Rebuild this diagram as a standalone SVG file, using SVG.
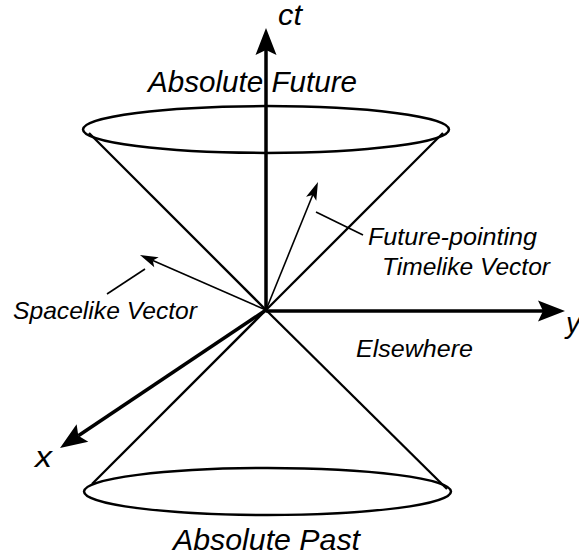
<svg xmlns="http://www.w3.org/2000/svg" width="579" height="556" viewBox="0 0 579 556">
<style>
.lbl{font-family:"Liberation Sans",Arial,Helvetica,sans-serif;font-style:italic;fill:#000}
.big{font-size:29px}
.sm{font-size:24px}
.cone{fill:none;stroke:#000;stroke-width:2.3}
.ell{fill:none;stroke:#000;stroke-width:2.5}
.axis{fill:none;stroke:#000;stroke-width:3.5}
.vec{fill:none;stroke:#000;stroke-width:1.6}
.lead{fill:none;stroke:#000;stroke-width:1.6}
</style>
<defs>
<marker id="ah" markerUnits="userSpaceOnUse" markerWidth="30" markerHeight="24" refX="5" refY="10.5" orient="auto" overflow="visible">
<path d="M0,0 L27,10.5 L0,21 L5,10.5 Z" fill="#000"/>
</marker>
<marker id="as" markerUnits="userSpaceOnUse" markerWidth="20" markerHeight="12" refX="4" refY="5.5" orient="auto" overflow="visible">
<path d="M0,0 L18,5.5 L0,11 L4,5.5 Z" fill="#000"/>
</marker>
</defs>
<rect width="579" height="556" fill="#fff"/>
<g id="future-cone">
<ellipse class="ell" cx="266" cy="129.5" rx="183" ry="23.4"/>
<line class="cone" x1="89" y1="133" x2="266" y2="310"/>
<line class="cone" x1="443" y1="133" x2="266" y2="310"/>
</g>
<g id="past-cone">
<ellipse class="ell" cx="267.5" cy="491.5" rx="183.5" ry="23.5"/>
<line class="cone" x1="92" y1="484" x2="266" y2="310"/>
<line class="cone" x1="447" y1="489" x2="266" y2="310"/>
</g>
<g id="connectors">
<line class="axis" x1="266" y1="310" x2="266" y2="50" marker-end="url(#ah)"/>
<line class="axis" x1="266" y1="311" x2="543" y2="311" marker-end="url(#ah)"/>
<line class="axis" x1="266" y1="310" x2="78.3" y2="435.8" marker-end="url(#ah)"/>
<line class="vec" x1="266" y1="310" x2="312.7" y2="195" marker-end="url(#as)"/>
<line class="vec" x1="266" y1="310" x2="152.8" y2="260.6" marker-end="url(#as)"/>
<line class="lead" x1="316" y1="212" x2="363" y2="235"/>
<line class="lead" x1="145" y1="269" x2="107" y2="294"/>
</g>
<g id="label-ct"><text class="lbl big" x="278" y="25" textLength="24" lengthAdjust="spacingAndGlyphs">ct</text></g>
<g id="label-future"><text class="lbl big" x="148" y="92" textLength="209" lengthAdjust="spacingAndGlyphs">Absolute Future</text></g>
<g id="label-past"><text class="lbl big" x="173" y="550" textLength="187" lengthAdjust="spacingAndGlyphs">Absolute Past</text></g>
<g id="label-x"><text class="lbl big" x="35" y="467" textLength="17" lengthAdjust="spacingAndGlyphs">x</text></g>
<g id="label-y"><text class="lbl big" x="566" y="333">y</text></g>
<g id="label-timelike">
<text class="lbl sm" x="368" y="245" textLength="169" lengthAdjust="spacingAndGlyphs">Future-pointing</text>
<text class="lbl sm" x="382" y="275" textLength="168" lengthAdjust="spacingAndGlyphs">Timelike Vector</text>
</g>
<g id="label-elsewhere"><text class="lbl sm" x="356" y="357" textLength="117" lengthAdjust="spacingAndGlyphs">Elsewhere</text></g>
<g id="label-spacelike"><text class="lbl sm" x="13" y="319" textLength="184" lengthAdjust="spacingAndGlyphs">Spacelike Vector</text></g>
</svg>
